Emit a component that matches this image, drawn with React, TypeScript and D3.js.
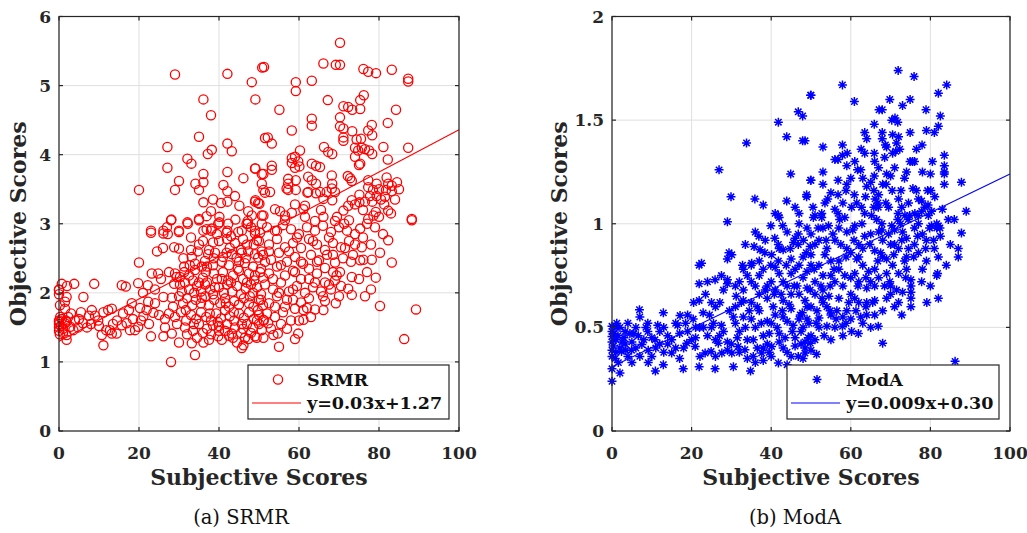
import React from "react";
import * as d3 from "d3";

// ---------- data ----------
const xTicks = [0, 20, 40, 60, 80, 100];
const yTicksSRMR = [0, 1, 2, 3, 4, 5, 6];
const yTicksModA = [0, 0.5, 1, 1.5, 2];
const yTickLabelsModA = ["0", "0.5", "1", "1.5", "2"];

const srmrFit = { slope: 0.0306, intercept: 1.3, label: "y=0.03x+1.27" };
const modaFit = { slope: 0.0093, intercept: 0.31, label: "y=0.009x+0.30" };

const srmrPoints: [number, number][] = [
  [29,5.16],[42.1,5.17],[48.2,5.05],[50.8,5.26],[49.1,4.8],[36.1,4.8],[38,4.57],[35,4.26],[27.1,4.11],[37.2,4.01],[38.2,4.07],[42.1,4.16],[43.2,4.05],[51.5,4.24],[32.1,3.94],[33.1,3.87],[27.1,3.81],[36.1,3.72],[42.1,3.75],[49.1,3.8],[46.1,3.66],[50.7,3.72],[30,3.62],[34.1,3.58],[36.1,3.6],[20,3.49],[29,3.49],[35,3.49],[41.1,3.56],[42.1,3.47],[50.7,3.58],[51.1,3.49],[36.1,3.31],[42.1,3.32],[45.1,3.26],[49.1,3.34],[50.1,3.29],[47.3,3.18],[38,3.18],[36.9,3.11],[40.1,3.1],[48.2,3.12],[50.7,3.12],[28.1,3.06],[32.1,3.02],[35,3.07],[40.1,3.02],[44.1,3.06],[47.2,3.04],[47.2,3.0],[50.7,3.0],
  [23,2.9],[26.1,2.9],[30,2.9],[36.1,2.9],[38,2.9],[42.1,2.9],[45.7,2.9],[49,2.9],
  [70.25,5.62],[51.25,5.27],[66.1,5.32],[69.2,5.3],[70.25,5.3],[76.1,5.24],[77.3,5.2],[79.25,5.18],[83.2,5.23],[87.3,5.1],[87.3,5.06],[59.2,5.05],[59.2,4.92],[63.2,5.07],[67.2,4.79],[55.1,4.65],[75.3,4.66],[75.3,4.79],[76.2,4.86],[71.1,4.7],[72.3,4.69],[73.3,4.65],[84.25,4.65],[70.25,4.54],[63.2,4.52],[63.2,4.42],[58.2,4.35],[70.25,4.41],[71.1,4.38],[73.3,4.34],[78.2,4.43],[77.3,4.35],[78.3,4.28],[82.2,4.46],[52.2,4.25],[53.2,4.16],[71.1,4.25],[71.1,4.2],[74.4,4.22],[75.5,4.23],
  [74,4.1],[74.8,4.06],[75.7,4.1],[76.5,4.08],[77.5,4.06],[78.3,4.01],[81.1,4.11],[87.3,4.1],[60.25,4.06],[66.25,4.11],[67.3,4.04],[68.3,4.01],
  [58.2,3.95],[59,3.97],[59.8,3.9],[58.2,3.88],[59,3.81],[60.1,3.83],[74,3.97],[75.3,3.87],[75,3.85],[82.2,3.93],[63.2,3.87],[64.25,3.84],[65.25,3.82],
  [49,3.8],[51.1,3.72],[53.2,3.84],[53.2,3.78],
  [57.3,3.65],[57.3,3.58],[56.9,3.51],[57.3,3.49],[59.2,3.63],[59.2,3.49],
  [62.3,3.68],[63.2,3.63],[64.25,3.58],
  [68.2,3.7],[68.3,3.58],[68.2,3.51],[69,3.46],[68.3,3.34],[66.1,3.36],[66.9,3.46],[65.3,3.46],
  [72.2,3.69],[73.2,3.62],[72.8,3.66],
  [77.3,3.63],[77.3,3.53],[78.5,3.49],
  [79.4,3.58],[81.9,3.67],[82.3,3.58],[83.2,3.55],[81.75,3.49],[83.2,3.47],[81.5,3.39],
  [62.3,3.46],[62.1,3.45],[64.25,3.44],[51.5,3.45],[52.75,3.46],[49,3.32],[49.8,3.3],
  [73.2,3.34],[75.1,3.42],[75.1,3.31],[76.5,3.32],[77.75,3.4],[78.3,3.32],[79.4,3.4],[80.5,3.35],[81.3,3.28],[82.3,3.19],
  [88.2,3.07],[71.1,3.19],[72.3,3.26],[74,3.28],
  [54,3.21],[55.25,3.18],[56.5,3.12],[58.2,3.16],[59,3.28],[61.1,3.21],[61.5,3.26],[51.1,3.12],
  [64,3.04],[66.1,3.1],[69,3.04],[71.3,3.0],[77.3,3.07],[78.6,3.12],[79.2,3.17],
  [23,2.87],[26.1,2.86],[27.2,2.85],[30,2.88],[28,3.05],[32.2,3.0],[35,3.05],[36.9,2.92],[38.2,2.93],[39.8,3.0],[41.9,2.87],[42.3,3.0],[44.8,2.88],[46.9,3.0],[49,2.86],[50.25,2.87],
  [20,2.44],[28.8,2.66],[30,2.64],[35,2.7],[38.5,2.73],[40,2.75],[42,2.78],[44,2.72],[47,2.7],[49.5,2.76],[45.5,2.62],[37.5,2.62],
  [31.1,2.5],[31.3,2.38],[33.2,2.52],[34,2.42],[35.7,2.38],[34,2.33],[37.3,2.56],[39,2.58],[40.7,2.45],[41.9,2.58],[43.2,2.56],[44.4,2.51],[45.7,2.58],[47.3,2.6],[49,2.56],[49.8,2.51],[50.7,2.6],[36.5,2.46],[38.5,2.4],[42.5,2.4],[46.5,2.43],[48.5,2.38],
  [23.2,2.28],[24.8,2.28],[29,2.28],[29.4,2.23],[30.25,2.23],[32.5,2.25],[33.5,2.18],[36,2.22],[37,2.15],[38.7,2.28],[39.5,2.2],[41,2.3],[42.3,2.18],[43.5,2.25],[45,2.32],[46,2.2],[47.5,2.28],[48.8,2.18],[50.3,2.3],[51,2.22],
  [0.7,2.13],[3.8,2.13],[8.8,2.13],[0,2.04],[15.7,2.11],[16.7,2.09],[19.8,2.14],[22.2,2.11],[24,2.05],[26.1,1.94],[28.2,1.93],[28.8,2.13],[30.25,2.12],[31.5,2.15],[32.5,2.05],[33.8,2.0],[34.5,2.1],[35.5,2.02],[36.5,2.12],[37.8,2.05],[38.5,1.98],[40,2.08],[41.2,2.0],[42,2.12],[43.3,2.02],[44.5,2.1],[45.5,1.98],[46.7,2.06],[48,2.12],[48.5,2.0],[49.5,2.08],[50.5,1.98],
  [1.9,1.94],[6.1,1.94],[18.2,1.85],[20.25,1.78],[22.3,1.87],[21.9,1.75],[30,1.95],[31,1.85],[32,1.92],[33.3,1.82],[34.2,1.9],[35.5,1.85],[36.6,1.95],[37.5,1.82],[38.8,1.9],[40.3,1.85],[41.5,1.92],[42.5,1.8],[43.8,1.88],[45,1.83],[46.2,1.92],[47.5,1.85],[48.6,1.8],[50,1.9],[51,1.82],
  [21.1,1.66],[23.6,1.71],[25,1.68],[26.5,1.62],[27.5,1.7],[29,1.65],[30.5,1.72],[31.8,1.6],[33,1.68],[34.3,1.62],[35.5,1.72],[36.8,1.65],[38,1.6],[39.3,1.7],[40.5,1.63],[41.5,1.75],[42.7,1.66],[43.8,1.6],[45,1.7],[46.2,1.64],[47.5,1.72],[48.7,1.62],[50,1.68],[51.2,1.6],
  [23,1.37],[26.1,1.37],[28.2,1.41],[30,1.28],[33.2,1.27],[36.1,1.28],[34,1.1],[28,1.0],[40.7,1.32],[39.8,1.37],[43.2,1.41],[46.1,1.24],[45.7,1.2],[49,1.37],[50.7,1.46],[31.5,1.5],[33.5,1.45],[35,1.55],[37,1.48],[38.5,1.53],[40,1.45],[42,1.55],[44,1.5],[45.5,1.42],[47,1.55],[48.5,1.5],[50,1.55],[38,1.4],[42.5,1.38],[46.5,1.35],[44.5,1.28],[47.3,1.33],
  [0,1.6],[0,1.55],[0,1.5],[0,1.58],[0,1.45],[0.3,1.65],[0.5,1.52],[0.7,1.62],[1,1.48],[1,1.42],[0.2,1.4],[1.5,1.56],[1.7,1.6],[1.9,1.58],[2.3,1.65],[2.8,1.51],[3.6,1.46],[4,1.6],[4.8,1.5],[5,1.62],[7.5,1.67],[8.2,1.75],[9,1.67],[9.8,1.6],[11.1,1.72],[12.3,1.75],[13.2,1.77],[12.75,1.46],[11.8,1.46],[10.7,1.39],[13.2,1.41],[14.4,1.41],[15.7,1.53],[16.9,1.56],[17.75,1.46],[19,1.46],[19.8,1.51],[11.1,1.24],[1.9,1.32],[1.9,1.39],[1.5,1.77],[1.5,1.87],[0.25,1.82],[0,1.98],[0,2.05],[2,2.1],[6,1.56],[7,1.5],[8,1.55],[3,1.7],[5.5,1.72],[14.5,1.6],[16,1.7],[17.5,1.75],[18.5,1.62],[13.5,1.55],[10,1.52],
  [88.2,3.05],[82.3,2.76],[80.25,2.58],[83.2,2.44],[79.2,2.22],[80.25,1.81],[89.25,1.76],[86.3,1.33],[69.2,1.85],[73.2,2.23],[72.3,2.06],[73.2,1.97],[75.3,2.47],[76.1,2.48],[78.2,2.48],[75.7,2.66],[75.3,2.93],[74,2.85],[69,2.18],[69.4,2.25],[70.25,2.3],[64,1.76],[66.1,1.75],[61.1,1.75],[59,1.77],[61.1,1.61],[59,1.33],[59.8,1.41],[55,1.22],[54.7,1.41],[53.6,1.39],[51.1,1.35],[49.4,1.35],[52.3,1.56],[51.1,1.61],
  [52,2.95],[54,2.9],[56,2.98],[58,2.92],[60,2.85],[62,2.95],[64,2.9],[66,2.97],[68,2.88],[70,2.95],[72,2.9],
  [50,2.75],[52.5,2.7],[54.5,2.78],[56.5,2.66],[58.5,2.72],[60.5,2.65],[62.5,2.78],[64.5,2.7],[66.5,2.62],[68.5,2.72],[70.5,2.66],[72.5,2.75],[74,2.7],
  [51,2.55],[53,2.48],[55,2.58],[57,2.45],[59,2.52],[61,2.42],[63,2.55],[65,2.47],[67,2.55],[69,2.44],[71,2.5],[73,2.45],
  [50.5,2.35],[52.5,2.28],[54.5,2.38],[56.5,2.25],[58.5,2.32],[60.5,2.2],[62.5,2.35],[64.5,2.28],[66.5,2.36],[68.5,2.3],
  [51.5,2.12],[53.5,2.05],[55.5,2.15],[57.5,2.02],[59.5,2.1],[61.5,2.0],[63.5,2.08],[65.5,2.02],[67.5,2.12],
  [50.5,1.9],[52.5,1.85],[54.5,1.95],[56.5,1.8],[58.5,1.9],[60.5,1.86],[62.5,1.92],[66.5,1.88],
  [52,1.7],[54,1.65],[56,1.72],[58,1.6],[57,1.48],[55.5,1.55],[53,1.48],
  [30.7,2.02],[31.7,1.75],[32.7,2.4],[33.7,1.55],[34.7,2.6],[35.7,1.93],[36.7,2.3],[37.7,1.7],[38.7,2.5],[39.7,1.58],[40.7,2.2],[41.7,1.85],[42.7,2.65],[43.7,1.72],[44.7,2.35],[45.7,1.55],[46.7,2.5],[47.7,1.95],[48.7,2.7],[49.7,1.75],
  [31.3,2.3],[33,2.62],[35,2.15],[37,2.38],[39,2.08],[41,2.52],[43,2.15],[45,2.45],[47,2.15],[49,2.25],
  [32,1.4],[34.5,1.35],[37.5,1.32],[40,1.52],[41.5,1.45],[43.5,1.35],[46,1.48],[48,1.42],[49.5,1.6],[36,1.42],
  [33,2.8],[36,2.75],[39.5,2.85],[43,2.82],[46,2.78],[48,2.95],[40.5,3.3],[44,3.4],[38.5,3.35],
  [51.5,2.45],[52.5,2.6],[53.5,2.2],[54.5,2.9],[55.5,2.4],[56.5,3.05],[57.5,2.6],[58.5,2.05],[59.5,2.8],[60.5,2.45],[61.5,3.1],[62.5,2.2],[63.5,2.75],[64.5,2.45],[65.5,3.2],[66.5,2.15],[67.5,2.8],[68.5,2.55],[69.5,3.1],[70.5,2.1],[71.5,2.65],[72.5,3.05],[73.5,2.55],
  [55,2.0],[57,1.9],[59,2.3],[62,1.78],[64,2.15],[66,1.95],[68,2.05],[70,1.95],[60,1.6],[63,1.65],[54,1.8],
  [76,2.8],[77,3.0],[78,2.7],[79,2.95],[80,3.1],[81,2.85],[83,3.15],[84,3.35],[85,3.5],[84.5,3.6],[80,3.5],[76,3.2],
  [75,2.2],[77,2.3],[78,2.05],[76.5,1.95],
  [21,2.0],[22.5,1.55],[24,1.85],[25.5,2.2],[26.5,1.5],[27.5,2.3],[28.5,1.8],[29.5,1.55],[20.5,1.6],[24.5,2.6],[26,2.65],[27,2.95]
];

const modaPoints: [number, number][] = [
  [49.9,1.62],[46.8,1.54],[47.9,1.52],[41.8,1.49],[43.9,1.42],[47.9,1.4],[33.8,1.39],[26.9,1.26],[44.9,1.24],[49.9,1.21],[29.9,1.13],[35.9,1.12],[38,1.09],[43.9,1.11],[48.9,1.13],[46,1.08],[47,1.05],[41,1.05],[41.8,1.04],[42,1.03],[29,1.01],[39.9,0.99],[42.9,0.99],[47,1.0],[50.6,1.03],
  [71.9,1.74],[75.9,1.71],[84.1,1.67],[82,1.63],[57.9,1.67],[50,1.62],[60.9,1.59],[74.9,1.6],[78.9,1.55],[67.1,1.55],[67.9,1.55],[70.3,1.5],[71.1,1.51],[71.8,1.49],[65.9,1.48],[82,1.47],[81,1.44],[67.9,1.44],[67.9,1.41],[64,1.41],[70.5,1.43],[71.5,1.39],[72.3,1.36],[70.5,1.34],[71.3,1.35],[74.9,1.44],[77.9,1.38],[69,1.37],[68.7,1.38],[48.5,1.4],[53,1.37],[57.9,1.38],[62.6,1.36],[63.5,1.34],[65.9,1.34],[59.1,1.34],[56,1.31],[56.8,1.31],[57.9,1.33],[75.5,1.3],[74.9,1.3],[76,1.3],[83.5,1.33],[83.5,1.28],[83.5,1.25],[83.5,1.24],[59,1.28],[61.7,1.26],[62.5,1.26],[67,1.27],[69,1.24],[70,1.23],[65.9,1.23],[53,1.25],[53,1.19],[50,1.21],[56.8,1.21],[59,1.19],[68,1.19],[68.9,1.19],[87.8,1.2],[83.5,1.19],[48.9,1.14],[54.2,1.12],[56.8,1.14],[58.8,1.16],[60.9,1.14],[63.7,1.13],[65.8,1.16],[66.8,1.1],[70.4,1.16],[72.6,1.16],[75.6,1.17],[76.5,1.16],[79.3,1.16],[80.1,1.16],[81.1,1.13],[89,1.06],
  [51,1.04],[52.7,1.05],[52.7,1.03],[56,1.07],[56.8,1.05],[58.5,1.03],[60.2,1.08],[62.7,1.08],[63.5,1.05],[65.2,1.04],[66.1,1.12],[66.9,1.08],[70.3,0.99],[71.9,1.05],[72.8,1.08],[73.6,1.04],[74.4,1.02],[76.1,1.05],[76.9,1.04],[77.8,1.11],[78.6,1.08],[79.4,1.09],[80.3,1.06],[81.6,1.0],[82,0.99],[54.4,0.99],[61,0.99],[67.8,1.0],
  [40.9,0.93],[36.9,0.94],[35.7,0.89],[37.2,0.875],[38.4,0.86],[40.1,0.85],[43,0.875],[41.8,0.82],[39.9,0.8],[45.6,0.91],[46.8,0.9],[48.1,0.92],[49.8,0.89],[29.4,0.86],[30.1,0.85],[29,0.83],[22.5,0.81],[21.9,0.8],[32.8,0.8],[35.1,0.81],[29,0.73],[29,0.71],[25.9,0.73],[21.9,0.71],[21.9,0.63],[25,0.62],[27.1,0.62],[31.2,0.65],[33,0.63],[6.9,0.585],[12.9,0.57],[17.1,0.557],[20.4,0.54],[22.9,0.57],
  [9,0.52],[11.5,0.51],[16.5,0.51],[18.5,0.52],[23,0.5],[25.5,0.52],[27.5,0.51],
  [0,0.505],[1.2,0.52],[0,0.456],[0.3,0.41],[0,0.36],[1.6,0.33],[2,0.28],[0,0.24],[3.3,0.48],[4.5,0.47],[6.6,0.46],[3.3,0.42],[2.4,0.384],[4.9,0.39],[7.5,0.417],[9.1,0.39],[10.8,0.44],
  [9.1,0.33],[10.9,0.29],[12.9,0.32],[17.9,0.3],[21.9,0.31],[25.9,0.3],[30.5,0.31],[34.8,0.29],
  [15,0.376],[18.8,0.424],[20.9,0.408],[23.4,0.376],[22.1,0.36],[24.9,0.384],[26.7,0.424],[27.6,0.376],[30.1,0.376],[31.7,0.408],[33.4,0.392],[35.5,0.36],[37.6,0.376],[40.1,0.408],[41.8,0.328],[46.8,0.36],[48.5,0.376],[49.8,0.424],
  [32,0.72],[34,0.75],[36,0.7],[38,0.78],[40,0.72],[42,0.76],[44,0.7],[46,0.78],[48,0.74],[50,0.8],
  [31,0.6],[33,0.55],[35,0.62],[37,0.58],[39,0.64],[41,0.56],[43,0.63],[45,0.59],[47,0.66],[49,0.6],[51,0.66],
  [32,0.48],[34,0.44],[36,0.5],[38,0.46],[40,0.52],[42,0.47],[44,0.53],[46,0.45],[48,0.5],[50,0.46],
  [36.5,0.4],[39,0.42],[43,0.4],[45,0.36],[47.5,0.42],[33,0.68],[37,0.66],[41,0.68],[45,0.66],[49,0.69],[35,0.54],[39,0.53],[43,0.55],[47,0.54],[38,0.34],[44,0.32],[35,0.8],[45,0.83],[48,0.84],[42,0.88],[37,0.82],[31,0.52],[39.5,0.38],
  [2,0.5],[3,0.45],[5,0.43],[6,0.5],[8,0.44],[1,0.44],[2,0.4],[4,0.36],[1,0.38],[7,0.36],[10,0.45],[12,0.42],[14,0.46],[13,0.38],[15,0.44],[17,0.47],[16,0.4],[19,0.48],[20,0.44],[21,0.5],[24,0.46],[26,0.44],[28,0.48],[29,0.43],[12,0.48],[8.5,0.5],[26,0.36],[29,0.39],
  [87.8,0.955],[87,0.88],[87,0.84],[82,0.84],[81.6,0.75],[81.8,0.76],[77.8,0.72],[82,0.64],[79.1,0.62],[75.1,0.6],[72.8,0.56],[68,0.58],[66.9,0.505],[68,0.424],[86.2,0.336],[51,0.44],[51.4,0.37],[48.5,0.43],[48.5,0.4],[61.9,0.47],[60.2,0.48],[57.9,0.505],[54,0.505],[52,0.545],[75.1,0.73],[75.1,0.7],[75.1,0.67],[75.1,0.64],[80.3,0.99],[81.6,0.98],[82.4,0.98],
  [50,0.95],[53,0.98],[56,0.92],[59,0.96],[62,0.9],[65,0.95],[68,0.92],[71,0.97],[74,0.93],[76,0.98],[78,0.95],
  [50,0.85],[52,0.8],[54,0.88],[57,0.82],[60,0.86],[63,0.8],[66,0.87],[69,0.83],[72,0.88],[74,0.84],[77,0.86],[79,0.82],
  [51,0.72],[53,0.68],[55,0.75],[58,0.7],[61,0.76],[64,0.69],[67,0.74],[70,0.7],[72,0.76],[73,0.67],
  [50,0.6],[53,0.62],[55,0.56],[57,0.64],[59,0.58],[62,0.62],[64,0.56],[66,0.63],[69,0.64],[71,0.6],
  [56,0.5],[58,0.46],[60,0.54],[63,0.52],[65,0.5],[55,0.44],[52,0.5],[49,0.54],[70,0.66],[60,0.66],[66,0.78],[57,0.78],[62,0.72],[74,0.78],
  [30.5,0.55],[31.5,0.45],[32.5,0.62],[33.5,0.5],[34.5,0.58],[35.5,0.44],[36.5,0.6],[37.5,0.52],[38.5,0.68],[39.5,0.47],[40.5,0.6],[41.5,0.5],[42.5,0.66],[43.5,0.45],[44.5,0.61],[45.5,0.51],[46.5,0.7],[47.5,0.48],[48.5,0.63],[49.5,0.52],
  [31,0.7],[33,0.78],[35,0.72],[37,0.75],[39,0.7],[41,0.79],[43,0.72],[45,0.76],[47,0.8],[49,0.77],
  [30,0.42],[32,0.38],[34,0.35],[36,0.33],[38,0.4],[40,0.36],[42,0.43],[44,0.38],[46,0.41],[48,0.35],[50,0.39],
  [33.5,0.9],[36,0.96],[38.5,0.92],[44,0.96],[46,0.93],[49,0.98],
  [51.5,0.58],[52.5,0.7],[53.5,0.85],[54.5,0.65],[55.5,0.95],[56.5,0.58],[57.5,0.9],[58.5,0.75],[59.5,0.62],[60.5,0.97],[61.5,0.83],[62.5,0.55],[63.5,0.94],[64.5,0.77],[65.5,0.62],[66.5,1.02],[67.5,0.86],[68.5,0.7],[69.5,0.95],[70.5,0.8],[71.5,0.68],[72.5,1.0],[73.5,0.82],[74.5,0.88],
  [51,0.9],[53,0.75],[55,0.82],[57,0.98],[59,0.88],[61,0.64],[63,0.88],[65,0.72],[67,0.96],[69,0.76],[71,0.9],[73,0.96],
  [52,0.92],[54,0.6],[56,0.72],[58,0.55],[60,0.74],[62,0.84],[64,0.62],[66,0.7],[68,0.84],[70,0.9],[72,0.62],
  [50.5,1.08],[53.5,1.1],[55,1.15],[58,1.1],[61.5,1.1],[64,1.18],[67,1.14],[69.5,1.08],[72,1.12],[74.5,1.1],[77,1.12],[60,1.22],[63,1.22],[66,1.3],[71,1.27],[73.5,1.22],[78,1.25],[80,1.24],
  [76,0.9],[78,0.78],[79,0.92],[80,0.7],[81,0.88],[82.5,0.94],[84,0.8],[84.5,1.02],[85,0.9],[83,1.07],[86,1.02],[77,1.0],[79.5,1.04],
  [20.5,0.62],[22,0.5],[23.5,0.66],[24.5,0.56],[26,0.6],[27,0.46],[28,0.68],[29.5,0.58],[21,0.45],[25,0.5],[27.5,0.75],[24,0.72],
  [0,0.43],[0,0.48],[0,0.39],[0.5,0.47],[0.8,0.35],[1.5,0.46],[2.5,0.43],[3.5,0.39],[0,0.3],[1,0.5],[4,0.52],[5.5,0.47],
  [6,0.4],[7,0.55],[9,0.48],[11,0.4],[13,0.5],[14,0.42],[16,0.52],[18,0.4],[19,0.56],[10,0.36],[17,0.35],[5,0.33],
  [55.8,0.78],[57.2,1.02],[58.8,0.84],[60.8,0.92],[61.8,0.7],[62.8,1.0],[63.8,0.74],[64.8,0.9],[65.8,1.08],[66.8,0.82],[67.8,0.97],[68.8,1.1],[69.8,0.72],[70.8,0.85],[71.8,1.02],[72.8,0.92],[73.8,0.74],[74.8,1.04],[75.8,0.84],[76.8,0.94],[77.8,1.06],[78.8,0.88],[79.8,0.98],[80.8,0.92],
  [40.8,0.66],[41.8,0.9],[42.8,0.58],[43.8,0.8],[44.8,0.88],[45.8,0.7],[46.8,0.95],[47.8,0.57],[48.8,0.86],[49.8,0.68],[50.8,0.78],[51.8,0.98],[52.8,0.64],[53.8,0.92],[54.8,0.7],
  [45.3,0.48],[47.3,0.56],[49.3,0.45],[51.3,0.52],[53.3,0.46],[54.8,0.58],[56.3,0.54],[58.8,0.52],[61.3,0.58],[63.8,0.6],[66,0.56],
  [61,1.3],[63.5,1.44],[65,1.2],[68.5,1.32],[72,1.42],[74,1.25],[76.5,1.36],[79,1.45],[80.5,1.3],[82.5,1.52],[69.8,1.6],[73,1.57]
];

// ---------- styling ----------
const FONT = "'DejaVu Serif', serif";
const AXIS = "#262626";
const GRID = "#dfdfdf";
const STAR = "M-4.5,0H4.5M0,-4.5V4.5M-3.2,-3.2L3.2,3.2M-3.2,3.2L3.2,-3.2";

type PanelProps = {
  points: [number, number][];
  xRange: [number, number];
  yDomain: [number, number];
  yTicks: number[];
  yTickLabels: string[];
  color: string;
  marker: "circle" | "star";
  fit: { slope: number; intercept: number; label: string };
  name: string;
  legendBox: [number, number];
  yTitleX: number;
  caption: string;
  captionX: number;
};

function Marker({ kind, x, y, color }: { kind: string; x: number; y: number; color: string }) {
  if (kind === "circle")
    return <circle cx={x} cy={y} r={4.6} fill="none" stroke={color} strokeWidth={1.3} />;
  return <path d={STAR} transform={`translate(${x},${y})`} fill="none" stroke={color} strokeWidth={1.5} />;
}

function Panel(p: PanelProps) {
  const x = d3.scaleLinear().domain([0, 100]).range(p.xRange);
  const y = d3.scaleLinear().domain(p.yDomain).range([431, 16.5]);
  const [x0, x1] = p.xRange;
  const y0 = 431, y1 = 16.5;
  const line = d3.line<number>().x((d) => x(d)).y((d) => y(p.fit.slope * d + p.fit.intercept));
  const tk = 4;
  const [lx0, lx1] = p.legendBox;
  const ly0 = 365, ly1 = 419;
  return (
    <g>
      {xTicks.map((t) => (
        <line key={"gx" + t} x1={x(t)} x2={x(t)} y1={y0} y2={y1} stroke={GRID} strokeWidth={1} />
      ))}
      {p.yTicks.map((t) => (
        <line key={"gy" + t} x1={x0} x2={x1} y1={y(t)} y2={y(t)} stroke={GRID} strokeWidth={1} />
      ))}
      {p.points.map(([a, b], i) => (
        <Marker key={i} kind={p.marker} x={x(a)} y={y(b)} color={p.color} />
      ))}
      <path d={line([0, 100]) || ""} stroke={p.color} strokeWidth={1.1} fill="none" />
      <rect x={x0} y={y1} width={x1 - x0} height={y0 - y1} fill="none" stroke={AXIS} strokeWidth={1.2} />
      {xTicks.map((t) => (
        <g key={"tx" + t}>
          <line x1={x(t)} x2={x(t)} y1={y0} y2={y0 - tk} stroke={AXIS} strokeWidth={1.2} />
          <line x1={x(t)} x2={x(t)} y1={y1} y2={y1 + tk} stroke={AXIS} strokeWidth={1.2} />
          <text x={x(t)} y={459} textAnchor="middle" fontFamily={FONT} fontWeight="bold" fontSize={17} fill={AXIS}>
            {t}
          </text>
        </g>
      ))}
      {p.yTicks.map((t, i) => (
        <g key={"ty" + t}>
          <line x1={x0} x2={x0 + tk} y1={y(t)} y2={y(t)} stroke={AXIS} strokeWidth={1.2} />
          <line x1={x1} x2={x1 - tk} y1={y(t)} y2={y(t)} stroke={AXIS} strokeWidth={1.2} />
          <text x={x0 - 8} y={y(t) + 6} textAnchor="end" fontFamily={FONT} fontWeight="bold" fontSize={17} fill={AXIS}>
            {p.yTickLabels[i]}
          </text>
        </g>
      ))}
      <text x={(x0 + x1) / 2} y={485} textAnchor="middle" fontFamily={FONT} fontWeight="bold" fontSize={22} fill={AXIS}>
        Subjective Scores
      </text>
      <text transform={`translate(${p.yTitleX},${(y0 + y1) / 2}) rotate(-90)`} textAnchor="middle" fontFamily={FONT} fontWeight="bold" fontSize={22} fill={AXIS}>
        Objective Scores
      </text>
      <rect x={lx0} y={ly0} width={lx1 - lx0} height={ly1 - ly0} fill="white" stroke={AXIS} strokeWidth={1.2} />
      <Marker kind={p.marker} x={lx0 + 30} y={379.5} color={p.color} />
      <line x1={lx0 + 4} x2={lx0 + 53} y1={403} y2={403} stroke={p.color} strokeWidth={1.1} />
      <text x={lx0 + 59} y={386} fontFamily={FONT} fontWeight="bold" fontSize={17.5} fill="#111">
        {p.name}
      </text>
      <text x={lx0 + 59} y={409} fontFamily={FONT} fontWeight="bold" fontSize={17.5} fill="#111">
        {p.fit.label}
      </text>
      <text x={p.captionX} y={524} textAnchor="middle" fontFamily={FONT} fontSize={19.5} fill="#111">
        {p.caption}
      </text>
    </g>
  );
}

export default function App() {
  return (
    <div style={{ position: "absolute", left: 0, top: 0 }}>
      <svg width={1027} height={533} viewBox="0 0 1027 533" style={{ display: "block", background: "white" }}>
        <Panel
          points={srmrPoints}
          xRange={[59, 459]}
          yDomain={[0, 6]}
          yTicks={yTicksSRMR}
          yTickLabels={yTicksSRMR.map(String)}
          color="#ff0000"
          marker="circle"
          fit={srmrFit}
          name="SRMR"
          legendBox={[248, 449]}
          yTitleX={26}
          caption="(a) SRMR"
          captionX={241}
        />
        <Panel
          points={modaPoints}
          xRange={[612, 1010]}
          yDomain={[0, 2]}
          yTicks={yTicksModA}
          yTickLabels={yTickLabelsModA}
          color="#0000ff"
          marker="star"
          fit={modaFit}
          name="ModA"
          legendBox={[787, 999]}
          yTitleX={567}
          caption="(b) ModA"
          captionX={795}
        />
      </svg>
    </div>
  );
}
